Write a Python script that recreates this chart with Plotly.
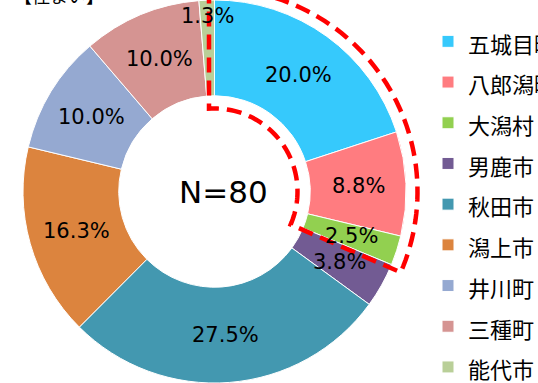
import math
import plotly.graph_objects as go

# Residence of respondents (N=80), share in percent
municipalities = ["五城目町", "八郎潟町", "大潟村", "男鹿市", "秋田市",
                  "潟上市", "井川町", "三種町", "能代市"]
shares = [20.0, 8.8, 2.5, 3.8, 27.5, 16.3, 10.0, 10.0, 1.3]
slice_colors = ["#36C9FC", "#FF7C80", "#92D050", "#725B93", "#4398B0",
                "#DC843E", "#95A9D1", "#D59492", "#B9CF98"]
sample_size = 80
highlighted_count = 3  # the first three municipalities get a dashed outline
title_text = "【住まい】"

W, H = 538, 383
cx, cy = 214.5, 191.5
r_out = 191.5
hole = 0.5
r_in = r_out * hole


def to_paper(px, py):
    return px / W, 1 - py / H


legend_labels = [f'<span style="font-size:22px">{m}</span>' for m in municipalities]

fig = go.Figure(go.Pie(
    labels=legend_labels,
    values=shares,
    sort=False,
    direction="clockwise",
    rotation=0,
    hole=hole,
    marker=dict(colors=slice_colors, line=dict(color="white", width=1)),
    textinfo="none",
    hoverinfo="label+percent",
    domain=dict(x=[(cx - r_out) / W, (cx + r_out) / W], y=[0, 1]),
))

# percentage labels placed at the middle of each ring segment
total = sum(shares)
annotations = []
cum = 0.0
for v in shares:
    mid = 2 * math.pi * (cum + v / 2) / total
    cum += v
    r = (r_in + r_out) / 2 if v >= 2 else r_out - 16
    px = cx + r * math.sin(mid)
    py = cy - r * math.cos(mid)
    x, y = to_paper(px, py)
    annotations.append(dict(
        x=x, y=y, xref="paper", yref="paper", text=f"{v:.1f}%",
        showarrow=False, xanchor="center", yanchor="middle",
        font=dict(family="DejaVu Sans", size=21, color="#000000"),
    ))

# sample size in the hole
x, y = to_paper(cx + 9, cy)
annotations.append(dict(
    x=x, y=y, xref="paper", yref="paper", text=f"N={sample_size}",
    showarrow=False, xanchor="center", yanchor="middle",
    font=dict(family="DejaVu Sans", size=31, color="#000000"),
))

# title (sits partly above the top edge)
x, y = to_paper(12, -5)
annotations.append(dict(
    x=x, y=y, xref="paper", yref="paper", text=title_text,
    showarrow=False, xanchor="left", yanchor="middle",
    font=dict(family="Noto Sans CJK JP", size=18, color="#000000"),
))

# dashed outline around the highlighted slices
R_o, R_i, off = 203, 83, 5.5
end_angle = 2 * math.pi * sum(shares[:highlighted_count]) / total + math.radians(1)
pts = []
pts.append((cx - off, cy - math.sqrt(R_o ** 2 - off ** 2)))
a0_in = -math.asin(off / R_i)
n = 60
for i in range(n + 1):
    a = a0_in + (end_angle - a0_in) * i / n
    pts.append((cx + R_i * math.sin(a), cy - R_i * math.cos(a)))
a0_out = -math.asin(off / R_o)
for i in range(n + 1):
    a = end_angle + (a0_out - end_angle) * i / n
    pts.append((cx + R_o * math.sin(a), cy - R_o * math.cos(a)))
path = ""
for i, (px, py) in enumerate(pts):
    x, y = to_paper(px, py)
    path += ("M" if i == 0 else "L") + f"{x:.5f},{y:.5f}"
path += "Z"

fig.update_layout(
    width=W, height=H,
    margin=dict(l=0, r=0, t=0, b=0, autoexpand=False),
    paper_bgcolor="white",
    plot_bgcolor="white",
    annotations=annotations,
    shapes=[dict(type="path", path=path, xref="paper", yref="paper",
                 line=dict(color="#FF0000", width=4.5, dash="15px,8px"),
                 fillcolor="rgba(0,0,0,0)")],
    showlegend=True,
    legend=dict(
        x=428 / W, xanchor="left", y=1 - 16 / H, yanchor="top",
        font=dict(family="Noto Sans CJK JP", size=29, color="#000000"),
        bgcolor="rgba(0,0,0,0)", traceorder="normal",
    ),
)

fig.write_html("out.html")
